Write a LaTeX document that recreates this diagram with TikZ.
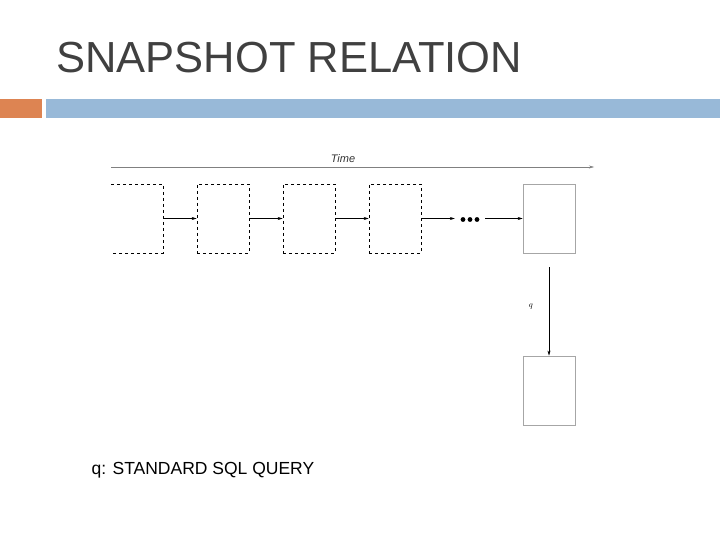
\documentclass[tikz,border=0pt]{standalone}
\usepackage{fontspec}
\setmainfont{Liberation Sans}
\usetikzlibrary{arrows.meta}
\definecolor{orng}{HTML}{DD8452}
\definecolor{blu}{HTML}{98B9D8}
\begin{document}
\begin{tikzpicture}[x=1pt,y=-1pt,
  dbox/.style={draw,dashed,thick,minimum width=52pt,minimum height=69pt,inner sep=0pt},
  sbox/.style={draw=gray!70,thick,minimum width=52pt,minimum height=69pt,inner sep=0pt},
  arr/.style={-{Stealth[length=5pt,width=3pt]},thin}]
\useasboundingbox (0,0) rectangle (720,540);
\node[anchor=west,text=black!75,font=\fontsize{43.5}{46}\selectfont] (title) at (53,58) {SNAPSHOT RELATION};
\fill[orng] (0,99) rectangle (42,118);
\fill[blu] (46,99) rectangle (720,118);
\coordinate (t0) at (111,167); \coordinate (t1) at (594,167);
\draw[arr,gray] (t0) -- (t1);
\node[font=\itshape\fontsize{11}{12}\selectfont,text=black!80] (time) at (343,159) {Time};
% first box open on left
\node[minimum width=52pt,minimum height=69pt,inner sep=0pt] (b1) at (137,218.5) {};
\draw[dashed,thick] (111,184) -- (163,184) -- (163,253) -- (111,253);
\node[dbox] (b2) at (223,218.5) {};
\node[dbox] (b3) at (309,218.5) {};
\node[dbox] (b4) at (395,218.5) {};
\node[minimum width=30pt,minimum height=10pt,inner sep=0pt] (dots) at (470,218.5) {};
\foreach \i in {-7,0,7} \fill (470+\i,219.5) circle (2.4pt);
\node[sbox] (b5) at (549,218.5) {};
\node[sbox] (b6) at (549,390.5) {};
\draw[arr] (b1.east) -- (b2.west);
\draw[arr] (b2.east) -- (b3.west);
\draw[arr] (b3.east) -- (b4.west);
\draw[arr] (b4.east) -- (dots.west);
\draw[arr] (dots.east) -- (b5.west);
\coordinate (qa) at (549,267);
\draw[arr] (qa) -- (b6.north);
\node[font=\fontsize{8}{9}\selectfont] (q) at (531,307) {$q$};
\node[anchor=west,font=\fontsize{17.5}{19}\selectfont] (note) at (88,470) {q: STANDARD SQL QUERY};
\end{tikzpicture}
\end{document}
